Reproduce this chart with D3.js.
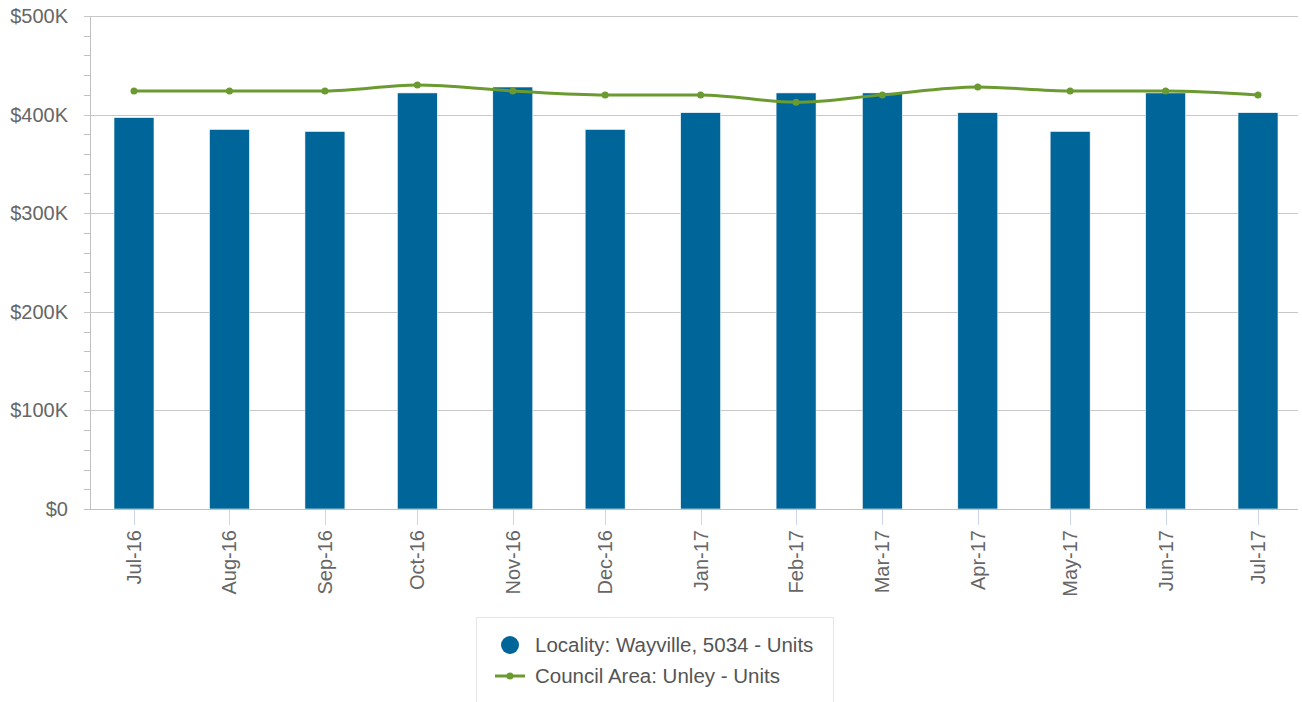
<!DOCTYPE html>
<html>
<head>
<meta charset="utf-8">
<script src="https://cdn.jsdelivr.net/npm/d3@7"></script>
<style>
  body { margin: 0; background: #fff; font-family: "Liberation Sans", Arial, sans-serif; }
  svg text { fill: #666; }
</style>
</head>
<body>
<script>
// data
var months = ["Jul-16", "Aug-16", "Sep-16", "Oct-16", "Nov-16", "Dec-16", "Jan-17",
              "Feb-17", "Mar-17", "Apr-17", "May-17", "Jun-17", "Jul-17"];
var localityValues = [397000, 385000, 383000, 422000, 428000, 385000, 402000,
                      422000, 422000, 402000, 383000, 422000, 402000];
var councilValues = [424000, 424000, 424000, 430000, 424000, 420000, 420000,
                     412500, 420000, 428000, 424000, 424000, 420000];
var yTicks = [0, 100000, 200000, 300000, 400000, 500000];
var seriesNames = ["Locality: Wayville, 5034 - Units", "Council Area: Unley - Units"];

var svgWidth = 1302, svgHeight = 702;
var plot = {left: 90, right: 1298, top: 16, bottom: 509};
var barColor = "#006699", lineColor = "#6a9a30";

var parseMonth = d3.timeParse("%b-%y");
var data = months.map(function(m, i) {
  return {label: m, date: parseMonth(m), bar: localityValues[i], line: councilValues[i]};
});

var svg = d3.select("body").append("svg")
  .attr("width", svgWidth)
  .attr("height", svgHeight);

// scales
var xScale = d3.scaleTime()
  .domain(d3.extent(data, d => d.date))
  .range([134, 1258]);
var yScale = d3.scaleLinear()
  .domain([0, 500000])
  .range([plot.bottom, plot.top]);

// minor ticks on y axis
var minor = d3.range(0, 500001, 20000).filter(v => v % 100000 !== 0);
svg.append("g").selectAll("line").data(minor).enter().append("line")
  .attr("x1", plot.left - 6).attr("x2", plot.left)
  .attr("y1", d => Math.round(yScale(d)) + 0.5)
  .attr("y2", d => Math.round(yScale(d)) + 0.5)
  .attr("stroke", "#c0c0c0");

// gridlines
svg.append("g").selectAll("line").data(yTicks.slice(1)).enter().append("line")
  .attr("x1", plot.left - 6).attr("x2", plot.right)
  .attr("y1", d => Math.round(yScale(d)) + 0.5)
  .attr("y2", d => Math.round(yScale(d)) + 0.5)
  .attr("stroke", "#c8c8c8");

// y labels
svg.append("g").selectAll("text").data(yTicks).enter().append("text")
  .attr("x", 68)
  .attr("y", d => yScale(d) + 7)
  .attr("text-anchor", "end")
  .style("font-size", "20px")
  .text(d => d === 0 ? "$0" : "$" + d / 1000 + "K");

// bars
var barWidth = 40;
svg.append("g").selectAll("rect").data(data).enter().append("rect")
  .attr("x", d => xScale(d.date) - barWidth / 2)
  .attr("y", d => yScale(d.bar))
  .attr("width", barWidth)
  .attr("height", d => yScale(0) - yScale(d.bar))
  .attr("fill", barColor)
  .attr("stroke", "#fff")
  .attr("stroke-width", 0.6);

// y axis line and x axis line
svg.append("line")
  .attr("x1", plot.left + 0.5).attr("x2", plot.left + 0.5)
  .attr("y1", plot.top).attr("y2", plot.bottom)
  .attr("stroke", "#c0c0c0");
svg.append("line")
  .attr("x1", plot.left - 6).attr("x2", plot.right)
  .attr("y1", plot.bottom + 0.5).attr("y2", plot.bottom + 0.5)
  .attr("stroke", "#c0c0c0");

// x ticks and labels
var xAxis = svg.append("g");
xAxis.selectAll("line").data(data).enter().append("line")
  .attr("x1", d => Math.round(xScale(d.date)) + 0.5)
  .attr("x2", d => Math.round(xScale(d.date)) + 0.5)
  .attr("y1", plot.bottom + 1).attr("y2", plot.bottom + 16)
  .attr("stroke", "#ccd6eb");
xAxis.selectAll("text").data(data).enter().append("text")
  .attr("transform", d => "translate(" + (xScale(d.date) + 7) + "," + (plot.bottom + 21) + ") rotate(-90)")
  .attr("text-anchor", "end")
  .style("font-size", "20px")
  .text(d => d.label);

// council line
var line = d3.line()
  .x(d => xScale(d.date))
  .y(d => yScale(d.line))
  .curve(d3.curveMonotoneX);
svg.append("path")
  .attr("d", line(data))
  .attr("fill", "none")
  .attr("stroke", lineColor)
  .attr("stroke-width", 3);
svg.append("g").selectAll("circle").data(data).enter().append("circle")
  .attr("cx", d => xScale(d.date))
  .attr("cy", d => yScale(d.line))
  .attr("r", 3.5)
  .attr("fill", lineColor);

// legend
var legend = svg.append("g");
legend.append("rect")
  .attr("x", 476.5).attr("y", 617.5)
  .attr("width", 357).attr("height", 100)
  .attr("fill", "none")
  .attr("stroke", "#e6e6e6");
legend.append("circle")
  .attr("cx", 510).attr("cy", 645).attr("r", 9)
  .attr("fill", barColor);
legend.append("text")
  .attr("x", 535).attr("y", 652)
  .style("font-size", "20.5px").style("fill", "#555")
  .text(seriesNames[0]);
legend.append("line")
  .attr("x1", 495).attr("x2", 525)
  .attr("y1", 676).attr("y2", 676)
  .attr("stroke", lineColor).attr("stroke-width", 3);
legend.append("circle")
  .attr("cx", 510).attr("cy", 676).attr("r", 3.5)
  .attr("fill", lineColor);
legend.append("text")
  .attr("x", 535).attr("y", 683)
  .style("font-size", "20.5px").style("fill", "#555")
  .text(seriesNames[1]);
</script>
</body>
</html>
